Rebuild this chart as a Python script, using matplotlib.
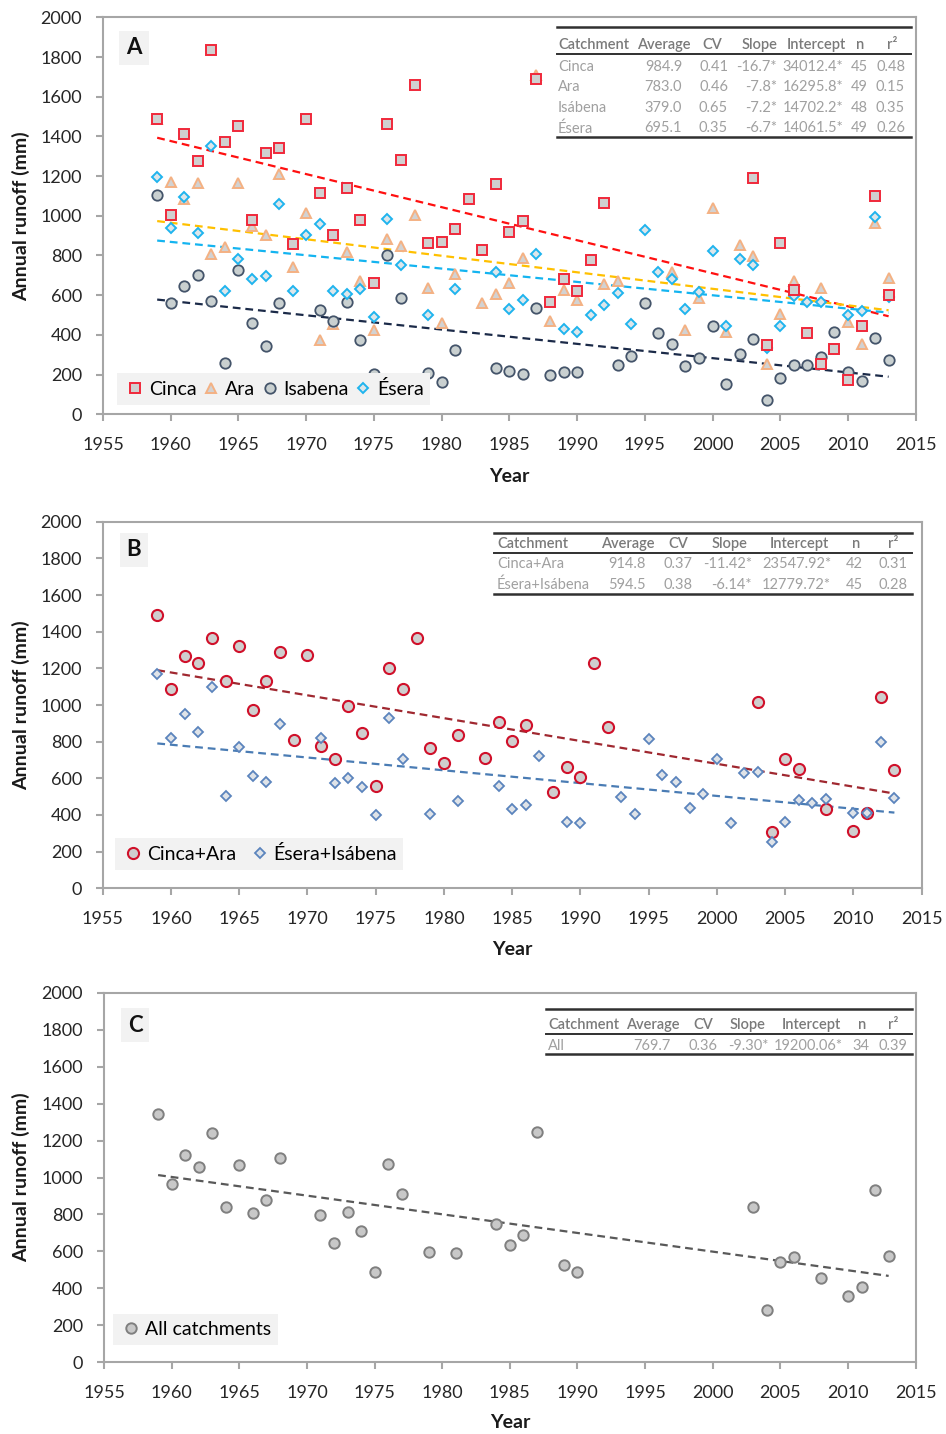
import numpy as np
import matplotlib
matplotlib.use("Agg")
import matplotlib.pyplot as plt
from matplotlib.lines import Line2D

plt.rcParams['font.family'] = ['Lato', 'DejaVu Sans']

# ---- panel A: single catchments ----
cinca_years = list(range(1959, 1993)) + list(range(2003, 2014))
cinca_runoff = [1490, 1005, 1410, 1275, 1835, 1370, 1450, 980, 1315, 1340,
                858, 1488, 1117, 903, 1138, 981, 663, 1463, 1282, 1657,
                862, 868, 935, 1087, 826, 1158, 918, 974, 1690, 564,
                680, 622, 776, 1063,
                1192, 347, 862, 625, 408, 251, 330, 174, 444, 1102, 600]

ara_years = [1959, 1960, 1961, 1962, 1963, 1964, 1965, 1966, 1967, 1968,
             1969, 1970, 1971, 1972, 1973, 1974, 1975, 1976, 1977, 1978,
             1979, 1980, 1981, 1983, 1984, 1985, 1986, 1987, 1988, 1989,
             1990, 1992, 1993, 1997, 1998, 1999, 2000, 2001, 2002, 2003,
             2004, 2005, 2006, 2008, 2010, 2011, 2012, 2013]
ara_runoff = [1490, 1170, 1083, 1165, 806, 843, 1165, 949, 902, 1213,
              742, 1016, 373, 457, 818, 670, 427, 885, 846, 1003,
              638, 460, 705, 563, 608, 662, 789, 1710, 470, 628,
              578, 655, 672, 717, 423, 586, 1041, 415, 855, 796,
              255, 507, 670, 638, 465, 356, 964, 689]

isabena_years = [1959, 1960, 1961, 1962, 1963, 1964, 1965, 1966, 1967, 1968,
                 1971, 1972, 1973, 1974, 1975, 1976, 1977, 1979, 1980, 1981,
                 1984, 1985, 1986, 1987, 1988, 1989, 1990, 1993, 1994, 1995,
                 1996, 1997, 1998, 1999, 2000, 2001, 2002, 2003, 2004, 2005,
                 2006, 2007, 2008, 2009, 2010, 2011, 2012, 2013]
isabena_runoff = [1107, 563, 645, 704, 569, 260, 729, 462, 344, 561,
                  527, 468, 566, 373, 205, 801, 586, 208, 163, 322,
                  233, 218, 205, 537, 196, 213, 213, 247, 292, 563,
                  412, 356, 243, 286, 443, 155, 302, 378, 71, 185,
                  250, 250, 289, 415, 213, 166, 384, 272]

esera_years = [1959, 1960, 1961, 1962, 1963, 1964, 1965, 1966, 1967, 1968,
               1969, 1970, 1971, 1972, 1973, 1974, 1975, 1976, 1977, 1979,
               1981, 1984, 1985, 1986, 1987, 1989, 1990, 1991, 1992, 1993,
               1994, 1995, 1996, 1997, 1998, 1999, 2000, 2001, 2002, 2003,
               2004, 2005, 2006, 2007, 2008, 2010, 2011, 2012, 2013]
esera_runoff = [1197, 940, 1095, 915, 1352, 621, 784, 684, 695, 1058,
                621, 902, 961, 619, 608, 630, 490, 982, 754, 499,
                633, 717, 529, 574, 809, 432, 415, 499, 553, 613,
                453, 930, 717, 684, 529, 616, 823, 443, 784, 754,
                336, 443, 594, 566, 566, 499, 519, 994, 591]

# ---- panel B: grouped catchments ----
cinara_years = [1959, 1960, 1961, 1962, 1963, 1964, 1965, 1966, 1967, 1968,
                1969, 1970, 1971, 1972, 1973, 1974, 1975, 1976, 1977, 1978,
                1979, 1980, 1981, 1983, 1984, 1985, 1986, 1988, 1989, 1990,
                1991, 1992, 2003, 2004, 2005, 2006, 2008, 2010, 2011, 2012, 2013]
cinara_runoff = [1491, 1086, 1269, 1231, 1367, 1133, 1322, 973, 1131, 1287,
                 809, 1273, 778, 705, 996, 845, 560, 1200, 1086, 1364,
                 764, 685, 836, 709, 909, 805, 891, 527, 664, 609,
                 1231, 878, 1015, 309, 704, 651, 431, 313, 409, 1045, 645]

esis_years = [1959, 1960, 1961, 1962, 1963, 1964, 1965, 1966, 1967, 1968,
              1971, 1972, 1973, 1974, 1975, 1976, 1977, 1979, 1981, 1984,
              1985, 1986, 1987, 1989, 1990, 1993, 1994, 1995, 1996, 1997,
              1998, 1999, 2000, 2001, 2002, 2003, 2004, 2005, 2006, 2007,
              2008, 2010, 2011, 2012, 2013]
esis_runoff = [1169, 822, 951, 851, 1096, 505, 769, 614, 582, 896,
               822, 573, 600, 551, 400, 927, 704, 405, 478, 560,
               433, 454, 724, 363, 354, 500, 404, 813, 618, 578,
               440, 513, 704, 354, 631, 636, 251, 363, 482, 467,
               485, 412, 409, 796, 491]

# ---- panel C: all catchments ----
all_years = [1959, 1960, 1961, 1962, 1963, 1964, 1965, 1966, 1967, 1968,
             1971, 1972, 1973, 1974, 1975, 1976, 1977, 1979, 1981, 1984,
             1985, 1986, 1987, 1989, 1990, 2003, 2004, 2005, 2006, 2008,
             2010, 2011, 2012, 2013]
all_runoff = [1344, 965, 1122, 1055, 1243, 842, 1068, 806, 876, 1107,
              797, 644, 813, 710, 487, 1075, 909, 599, 590, 748,
              635, 689, 1248, 527, 490, 839, 283, 545, 572, 458,
              361, 409, 931, 575]

# ---- statistics tables ----
table_header = ["Catchment", "Average", "CV", "Slope", "Intercept", "n", "r²"]
table_a = [["Cinca", "984.9", "0.41", "-16.7*", "34012.4*", "45", "0.48"],
           ["Ara", "783.0", "0.46", "-7.8*", "16295.8*", "49", "0.15"],
           ["Isábena", "379.0", "0.65", "-7.2*", "14702.2*", "48", "0.35"],
           ["Ésera", "695.1", "0.35", "-6.7*", "14061.5*", "49", "0.26"]]
table_b = [["Cinca+Ara", "914.8", "0.37", "-11.42*", "23547.92*", "42", "0.31"],
           ["Ésera+Isábena", "594.5", "0.38", "-6.14*", "12779.72*", "45", "0.28"]]
table_c = [["All", "769.7", "0.36", "-9.30*", "19200.06*", "34", "0.39"]]

W, H = 946, 1434
fig = plt.figure(figsize=(W / 100, H / 100), dpi=100)
fig.patch.set_facecolor('white')


def add_panel(box):
    l, t, r, b = box
    return fig.add_axes([l / W, 1 - b / H, (r - l) / W, (b - t) / H])


def fx(x):
    return x / W


def fy(y):
    return 1 - y / H


def style_axes(ax, box, xlabel_y):
    l, t, r, b = box
    ax.set_xlim(1955, 2015)
    ax.set_ylim(0, 2000)
    ax.set_xticks(range(1955, 2016, 5))
    ax.set_yticks(range(0, 2001, 200))
    for s in ax.spines.values():
        s.set_color('#a6a6a6')
        s.set_linewidth(1.5)
    ax.tick_params(axis='both', colors='#a6a6a6', labelcolor='#262626',
                   labelsize=13, length=5, width=1.5)
    ax.tick_params(axis='y', pad=10)
    ax.tick_params(axis='x', pad=11)
    ax.set_xlabel('Year', fontsize=14, fontweight='bold', color='#1a1a1a', va='center')
    ax.set_ylabel('Annual runoff (mm)', fontsize=14, fontweight='bold', color='#1a1a1a', va='center')
    ax.xaxis.set_label_coords(0.5, (b - xlabel_y) / (b - t))
    ax.yaxis.set_label_coords((21 - l) / (r - l), 0.5)


def trend(ax, years, values, color):
    k, c = np.polyfit(years, values, 1)
    xs = np.array([min(years), max(years)])
    ax.plot(xs, k * xs + c, color=color, linestyle=(0, (3.5, 2.2)), linewidth=1.6, zorder=2)


def panel_label(ax, box, text, cx, cy):
    l, t, r, b = box
    ax.text((cx - l) / (r - l), (b - cy) / (b - t), text, transform=ax.transAxes,
            fontsize=16, fontweight='bold', ha='center', va='center', color='#111111',
            bbox=dict(facecolor='#f2f2f2', edgecolor='none', pad=5))


def draw_table(rows, x0, x1, line_ys, head_y, row_ys, head_x, val_x):
    for i, ly in enumerate(line_ys):
        lw = 1.4 if i == 1 else 1.8
        fig.add_artist(Line2D([fx(x0), fx(x1)], [fy(ly), fy(ly)], color='#303030', linewidth=lw))
    for j, name in enumerate(table_header):
        ha = 'left' if j == 0 else 'center'
        fig.text(fx(head_x[j]), fy(head_y), name, ha=ha, va='center',
                 fontsize=10.5, color='#7a7a7a', fontweight='semibold')
    for row, ry in zip(rows, row_ys):
        for j, cell in enumerate(row):
            ha = 'left' if j == 0 else 'right'
            fig.text(fx(val_x[j]), fy(ry), cell, ha=ha, va='center',
                     fontsize=10.5, color='#a0a0a0')


leg_kw = dict(loc='lower left', frameon=True, facecolor='#f2f2f2', edgecolor='none',
              framealpha=1, fontsize=14, handletextpad=0.1,
              borderaxespad=0, borderpad=0.35, handlelength=1.2, fancybox=False)

# Panel A
box_a = (103, 17.3, 915.7, 414.3)
ax = add_panel(box_a)
style_axes(ax, box_a, 477)
ax.plot(ara_years, ara_runoff, linestyle='none', marker='^', markersize=7,
        markerfacecolor='#d2d2d2', markeredgecolor='#f4b183', markeredgewidth=1.4, label='Ara', zorder=3)
ax.plot(isabena_years, isabena_runoff, linestyle='none', marker='o', markersize=7.5,
        markerfacecolor='#c9d0d0', markeredgecolor='#44546a', markeredgewidth=1.3, label='Isabena', zorder=3)
ax.plot(esera_years, esera_runoff, linestyle='none', marker='D', markersize=5.5,
        markerfacecolor='#dde6ea', markeredgecolor='#1fb4ee', markeredgewidth=1.4, label='Ésera', zorder=3)
ax.plot(cinca_years, cinca_runoff, linestyle='none', marker='s', markersize=7,
        markerfacecolor='#d0d0d0', markeredgecolor='#f0283a', markeredgewidth=1.4, label='Cinca', zorder=4)
trend(ax, cinca_years, cinca_runoff, '#ff1010')
trend(ax, ara_years, ara_runoff, '#ffc000')
trend(ax, esera_years, esera_runoff, '#14b4f0')
trend(ax, isabena_years, isabena_runoff, '#1b2a48')
h, lab = ax.get_legend_handles_labels()
order = [3, 0, 1, 2]
ax.legend([h[i] for i in order], [lab[i] for i in order], ncol=4, columnspacing=0.15,
          bbox_to_anchor=((117 - 103) / 812.7, (414.3 - 405) / 397), **leg_kw)
panel_label(ax, box_a, 'A', 134, 48)
draw_table(table_a, 557, 911, [26.7, 54, 136.7], 45, [66.7, 87.3, 107.7, 128.3],
           [558, 664, 712, 759, 816, 860, 892],
           [558, 682, 728, 777, 843, 868, 905])

# Panel B
box_b = (102.7, 521.7, 921.7, 888.3)
ax = add_panel(box_b)
style_axes(ax, box_b, 950)
ax.plot(cinara_years, cinara_runoff, linestyle='none', marker='o', markersize=8,
        markerfacecolor='#cfcfcf', markeredgecolor='#d0102a', markeredgewidth=1.5, label='Cinca+Ara', zorder=3)
ax.plot(esis_years, esis_runoff, linestyle='none', marker='D', markersize=5.5,
        markerfacecolor='#dfe3e8', markeredgecolor='#5b84bd', markeredgewidth=1.3, label='Ésera+Isábena', zorder=3)
trend(ax, cinara_years, cinara_runoff, '#a02830')
trend(ax, esis_years, esis_runoff, '#4a7cb4')
ax.legend(ncol=2, columnspacing=0.6,
          bbox_to_anchor=((115 - 102.7) / 819, (888.3 - 870) / 366.6), **leg_kw)
panel_label(ax, box_b, 'B', 134, 550)
draw_table(table_b, 494, 912, [533.3, 553.3, 594.3], 544.3, [564.3, 585],
           [497, 628, 678, 729, 799, 856, 893],
           [497, 646, 692, 752, 831, 863, 907])

# Panel C
box_c = (104, 992.7, 915.7, 1362.3)
ax = add_panel(box_c)
style_axes(ax, box_c, 1422)
ax.plot(all_years, all_runoff, linestyle='none', marker='o', markersize=7.5,
        markerfacecolor='#c8c8c8', markeredgecolor='#7f7f7f', markeredgewidth=1.4, label='All catchments', zorder=3)
trend(ax, all_years, all_runoff, '#595959')
ax.legend(ncol=1, bbox_to_anchor=((113 - 104) / 811.7, (1362.3 - 1345) / 369.6), **leg_kw)
panel_label(ax, box_c, 'C', 135, 1025)
draw_table(table_c, 545.7, 912.3, [1009.3, 1034, 1054.3], 1025, [1045.7],
           [548, 653, 703, 748, 811, 862, 893],
           [548, 671, 717, 768, 843, 869, 907])

fig.savefig('out.png', dpi=100, facecolor='white')
